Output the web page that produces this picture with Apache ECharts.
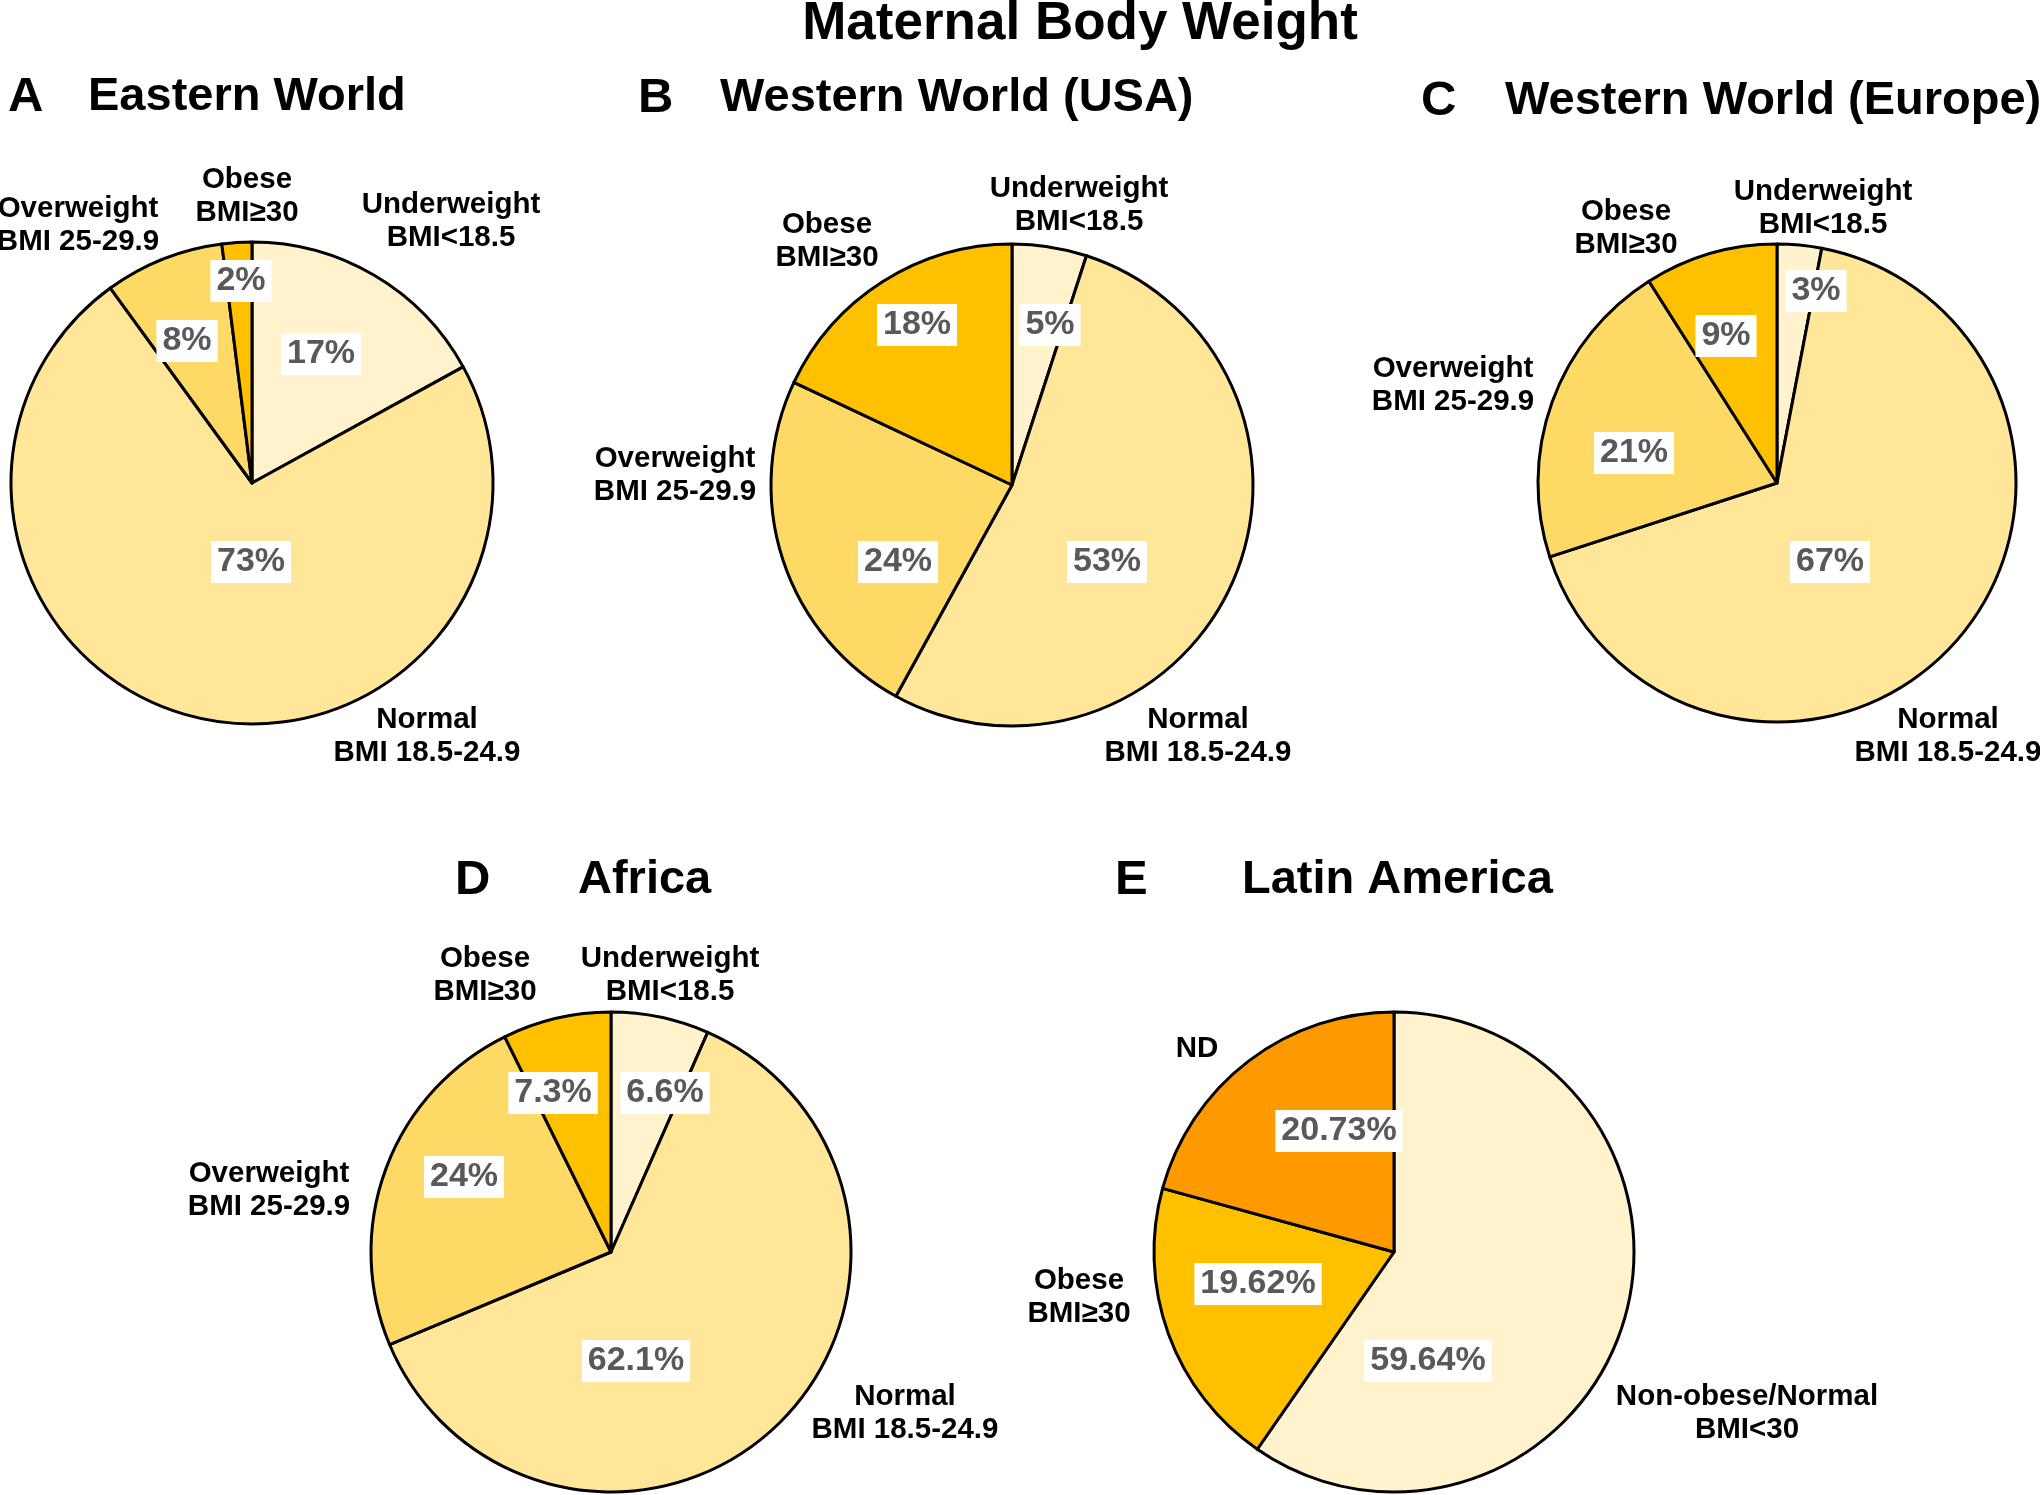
<!DOCTYPE html>
<html>
<head>
<meta charset="utf-8">
<script src="https://cdn.jsdelivr.net/npm/echarts@6/dist/echarts.min.js"></script>
<style>
html,body{margin:0;padding:0;background:#fff;}
#chart{width:2040px;height:1495px;}
</style>
</head>
<body>
<div id="chart"></div>
<script>
// ---------------- DATA ----------------
const mainTitle = 'Maternal Body Weight';

const panelLetters = ['A', 'B', 'C', 'D', 'E'];
const panelTitles = ['Eastern World', 'Western World (USA)', 'Western World (Europe)', 'Africa', 'Latin America'];

const bmiCategories = ['Underweight\nBMI<18.5', 'Normal\nBMI 18.5-24.9', 'Overweight\nBMI 25-29.9', 'Obese\nBMI≥30'];
const eastValues   = [17, 73, 8, 2];
const usaValues    = [5, 53, 24, 18];
const europeValues = [3, 67, 21, 9];
const africaValues = [6.6, 62.1, 24, 7.3];

const latinCategories = ['Non-obese/Normal\nBMI<30', 'Obese\nBMI≥30', 'ND'];
const latinValues = [59.64, 19.62, 20.73];

// ---------------- STYLE / LAYOUT ----------------
const FONT = "'Liberation Sans', Arial, Helvetica, sans-serif";
const catColors = {
  'Underweight\nBMI<18.5': '#FFF2CC',
  'Normal\nBMI 18.5-24.9': '#FFE699',
  'Overweight\nBMI 25-29.9': '#FFD966',
  'Obese\nBMI≥30': '#FFC000',
  'Non-obese/Normal\nBMI<30': '#FFF2CC',
  'ND': '#FF9900'
};

const panels = [
  { cats: bmiCategories, vals: eastValues, center: [252, 483], r: 241,
    letter: [8, 97], title: [88, 97],
    namePos: [[451, 221], [427, 736], [78, 225], [247, 196]],
    pctPos: [[321, 354], [251, 562], [187, 341], [241, 281]] },
  { cats: bmiCategories, vals: usaValues, center: [1012, 485], r: 241,
    letter: [638, 98], title: [720, 98],
    namePos: [[1079, 205], [1198, 736], [675, 475], [827, 241]],
    pctPos: [[1050, 325], [1107, 562], [898, 562], [917, 325]] },
  { cats: bmiCategories, vals: europeValues, center: [1777, 483], r: 239,
    letter: [1421, 101], title: [1505, 101],
    namePos: [[1823, 208], [1948, 736], [1453, 385], [1626, 228]],
    pctPos: [[1816, 291], [1830, 562], [1634, 453], [1726, 336]] },
  { cats: bmiCategories, vals: africaValues, center: [611, 1252], r: 240,
    letter: [455, 880], title: [578, 880],
    namePos: [[670, 975], [905, 1413], [269, 1190], [485, 975]],
    pctPos: [[665, 1093], [636, 1361], [464, 1177], [553, 1093]] },
  { cats: latinCategories, vals: latinValues, center: [1394, 1252], r: 240,
    letter: [1115, 880], title: [1242, 880],
    namePos: [[1747, 1413], [1079, 1297], [1197, 1049]],
    pctPos: [[1428, 1361], [1258, 1284], [1339, 1131]] }
];

// ---------------- BUILD ----------------
const series = [];
const graphic = [];

graphic.push({
  type: 'text', x: 1080, y: 24,
  style: { text: mainTitle, font: 'bold 53px ' + FONT, fill: '#000', align: 'center', verticalAlign: 'middle' }
});

panels.forEach(function (p, i) {
  graphic.push({
    type: 'text', x: p.letter[0], y: p.letter[1],
    style: { text: panelLetters[i], font: 'bold 49px ' + FONT, fill: '#000', align: 'left', verticalAlign: 'middle' }
  });
  graphic.push({
    type: 'text', x: p.title[0], y: p.title[1],
    style: { text: panelTitles[i], font: 'bold 47px ' + FONT, fill: '#000', align: 'left', verticalAlign: 'middle' }
  });

  const data = p.cats.map(function (c, k) {
    return { name: c, value: p.vals[k], itemStyle: { color: catColors[c] } };
  });

  // visible pie with percentage labels
  series.push({
    type: 'pie',
    center: p.center,
    radius: p.r,
    startAngle: 90,
    clockwise: true,
    avoidLabelOverlap: false,
    silent: true,
    animation: false,
    itemStyle: { borderColor: '#000', borderWidth: 3 },
    label: {
      show: true,
      position: 'inside',
      formatter: function (params) { return params.value + '%'; },
      fontFamily: FONT,
      fontWeight: 'bold',
      fontSize: 34,
      color: '#595959',
      backgroundColor: '#ffffff',
      padding: [5, 6, 3, 6]
    },
    labelLine: { show: false },
    labelLayout: function (params) {
      const pos = p.pctPos[params.dataIndex];
      return { x: pos[0], y: pos[1], align: 'center', verticalAlign: 'middle' };
    },
    data: data
  });

  // transparent overlay carrying the category name labels
  series.push({
    type: 'pie',
    center: p.center,
    radius: p.r,
    startAngle: 90,
    clockwise: true,
    avoidLabelOverlap: false,
    silent: true,
    animation: false,
    itemStyle: { color: 'rgba(0,0,0,0)', borderWidth: 0 },
    label: {
      show: true,
      position: 'outside',
      formatter: '{b}',
      fontFamily: FONT,
      fontWeight: 'bold',
      fontSize: 29.5,
      lineHeight: 33,
      color: '#000',
      align: 'center'
    },
    labelLine: { show: false },
    labelLayout: function (params) {
      const pos = p.namePos[params.dataIndex];
      return { x: pos[0], y: pos[1], align: 'center', verticalAlign: 'middle' };
    },
    data: p.cats.map(function (c, k) { return { name: c, value: p.vals[k] }; })
  });
});

const chart = echarts.init(document.getElementById('chart'), null, { renderer: 'canvas' });
chart.setOption({
  backgroundColor: '#ffffff',
  animation: false,
  graphic: graphic,
  series: series
});
</script>
</body>
</html>
